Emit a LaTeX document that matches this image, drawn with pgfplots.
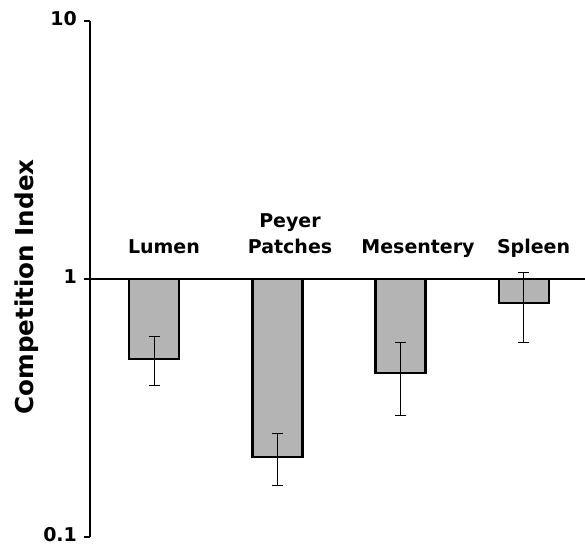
\documentclass[border=0pt]{standalone}
\usepackage{pgfplots}
\pgfplotsset{compat=1.18}
\usepackage{fontspec}
\setmainfont{DejaVu Sans}
\definecolor{bargrey}{HTML}{B4B4B4}
\begin{document}
\begin{tikzpicture}
\path[use as bounding box] (-45pt,-3.5pt) rectangle (247.5pt,268.5pt);
\begin{axis}[
  at={(0,0)}, anchor=south west,
  scale only axis,
  width=247.5pt, height=258pt,
  ymode=log,
  log origin y=0,
  ymin=0.1, ymax=10,
  xmin=-0.519, xmax=3.495,
  axis x line=none,
  axis y line*=left,
  y axis line style={line width=1pt,-},
  ytick={0.1,1,10},
  yticklabels={\textbf{0.1},\textbf{1},\textbf{10}},
  yticklabel style={font=\fontsize{9.5}{10}\selectfont, yshift=1pt},
  minor tick style={draw=none},
  tick align=outside,
  major tick length=3pt,
  major tick style={line width=1pt,black},
  ylabel={\textbf{Competition Index}},
  ylabel style={font=\fontsize{12.3}{14}\selectfont, at={(axis description cs:-0.127,0.4845)}, anchor=center},
  clip=false,
]
\addplot[ybar, bar width=25pt, fill=bargrey, draw=black, line width=1.25pt,
  error bars/.cd, y dir=both, y explicit,
  error bar style={line width=0.5pt,black},
  error mark options={rotate=90,mark size=2.75pt,line width=0.5pt,black}]
coordinates {
  (0,0.49)  += (0,0.110) -= (0,0.102)
  (1,0.204) += (0,0.047) -= (0,0.046)
  (2,0.432) += (0,0.133) -= (0,0.135)
  (3,0.807) += (0,0.248) -= (0,0.242)
};
\draw[line width=1pt] (axis cs:-0.56,1) -- (axis cs:3.495,1);
\begin{scope}[every node/.style={font=\bfseries\fontsize{9.5}{11}\selectfont, anchor=base, inner sep=0pt}]
\node at (axis cs:0.081,1.261) {Lumen};
\node at (axis cs:1.103,1.590) {Peyer};
\node at (axis cs:1.103,1.261) {Patches};
\node at (axis cs:2.141,1.261) {Mesentery};
\node at (axis cs:3.078,1.261) {Spleen};
\end{scope}
\end{axis}
\end{tikzpicture}
\end{document}
